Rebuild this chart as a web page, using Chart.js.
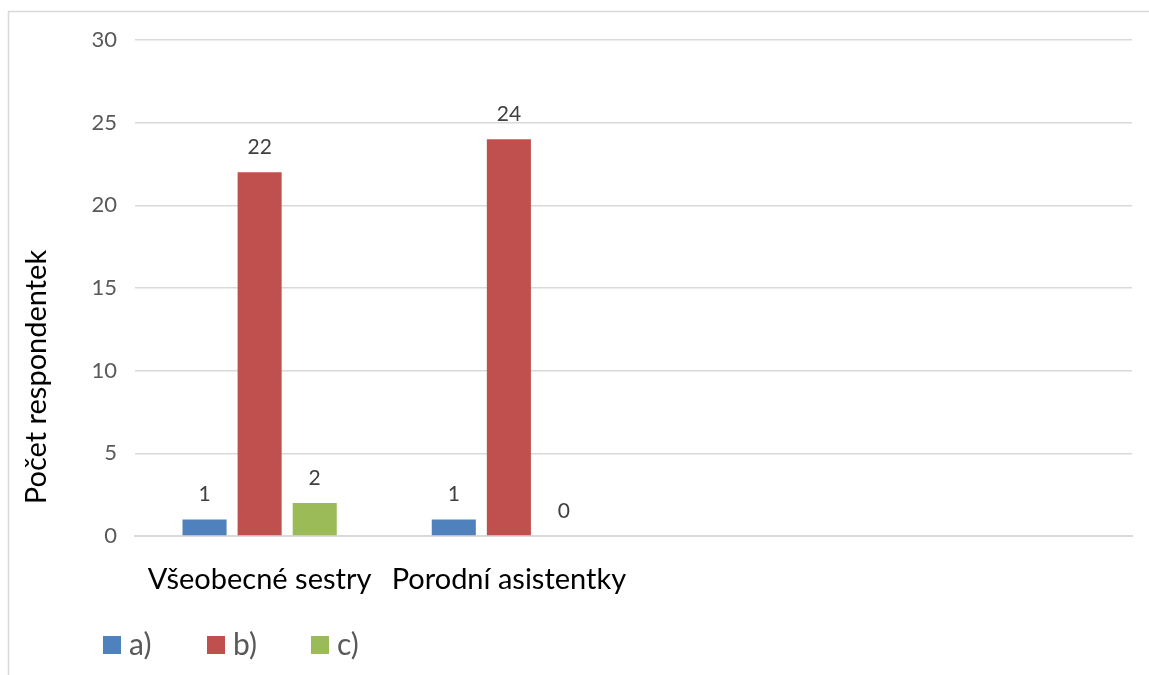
<!DOCTYPE html>
<html>
<head>
<meta charset="utf-8">
<script src="https://cdn.jsdelivr.net/npm/chart.js@4.4.1/dist/chart.umd.min.js"></script>
<style>
  html, body { margin: 0; padding: 0; background: #ffffff; }
  #wrap { width: 1149px; height: 675px; position: relative; }
</style>
</head>
<body>
<div id="wrap"><canvas id="chart" width="1149" height="675"></canvas></div>
<script>
// Categories (the last two slots are empty in the chart)
const categories = ['Všeobecné sestry', 'Porodní asistentky', '', ''];
// Answer counts per group
const seriesA = [1, 1, null, null];
const seriesB = [22, 24, null, null];
const seriesC = [2, 0, null, null];
const seriesNames = ['a)', 'b)', 'c)'];
const seriesColors = ['#4F81BD', '#C0504D', '#9BBB59'];
const yTicks = [0, 5, 10, 15, 20, 25, 30];
const yTitle = 'Počet respondentek';

const FONT = 'Lato, "Open Sans", sans-serif';

// Frame around the whole chart
const framePlugin = {
  id: 'frame',
  beforeDraw(chart) {
    const ctx = chart.ctx;
    ctx.save();
    ctx.fillStyle = '#ffffff';
    ctx.fillRect(0, 0, chart.width, chart.height);
    ctx.strokeStyle = '#d9d9d9';
    ctx.lineWidth = 1.5;
    ctx.strokeRect(8.5, 11.5, chart.width + 20, chart.height + 20);
    ctx.restore();
  }
};

// Value labels above each bar
const valueLabels = {
  id: 'valueLabels',
  afterDatasetsDraw(chart) {
    const ctx = chart.ctx;
    ctx.save();
    ctx.font = '21px ' + FONT;
    ctx.fillStyle = '#404040';
    ctx.textAlign = 'center';
    ctx.textBaseline = 'middle';
    chart.data.datasets.forEach((ds, i) => {
      const meta = chart.getDatasetMeta(i);
      meta.data.forEach((bar, j) => {
        const v = ds.data[j];
        if (v === null || v === undefined) return;
        ctx.fillText(String(v), bar.x, bar.y - 25);
      });
    });
    ctx.restore();
  }
};

// Axis title and legend drawn in the chart's own style
const sideTexts = {
  id: 'sideTexts',
  afterDraw(chart) {
    const ctx = chart.ctx;
    ctx.save();
    ctx.font = '29px ' + FONT;
    ctx.fillStyle = '#000000';
    ctx.textAlign = 'center';
    ctx.textBaseline = 'middle';
    ctx.translate(37, 377);
    ctx.rotate(-Math.PI / 2);
    ctx.fillText(yTitle, 0, 0);
    ctx.restore();

    ctx.save();
    const legendLeft = 103;
    const itemPitch = 104;
    ctx.font = '30px ' + FONT;
    ctx.textBaseline = 'middle';
    ctx.textAlign = 'left';
    chart.data.datasets.forEach((ds, i) => {
      const x = legendLeft + i * itemPitch;
      ctx.fillStyle = ds.backgroundColor;
      ctx.fillRect(x, 636, 18, 18);
      ctx.fillStyle = '#595959';
      ctx.fillText(ds.label, x + 26, 645);
    });
    ctx.restore();
  }
};

new Chart(document.getElementById('chart'), {
  type: 'bar',
  data: {
    labels: categories,
    datasets: [
      { label: seriesNames[0], data: seriesA, backgroundColor: seriesColors[0] },
      { label: seriesNames[1], data: seriesB, backgroundColor: seriesColors[1] },
      { label: seriesNames[2], data: seriesC, backgroundColor: seriesColors[2] }
    ]
  },
  options: {
    responsive: false,
    animation: false,
    devicePixelRatio: 1,
    layout: { padding: { left: 0, right: 17, top: 40, bottom: 0 } },
    datasets: { bar: { barPercentage: 0.8, categoryPercentage: 0.663 } },
    plugins: {
      legend: { display: false },
      tooltip: { enabled: false },
      title: { display: false }
    },
    scales: {
      x: {
        grid: { display: false, drawTicks: false },
        border: { display: true, color: '#d9d9d9', width: 2 },
        ticks: {
          font: { family: FONT, size: 29 },
          color: '#000000',
          padding: 26,
          maxRotation: 0,
          autoSkip: false
        },
        afterFit(scale) { scale.height = 139; }
      },
      y: {
        min: 0,
        max: 30,
        afterBuildTicks(scale) { scale.ticks = yTicks.map(v => ({ value: v })); },
        grid: { color: '#d9d9d9', lineWidth: 1.5, drawTicks: false },
        border: { display: false },
        ticks: {
          font: { family: FONT, size: 22 },
          color: '#595959',
          padding: 18
        },
        afterFit(scale) { scale.width = 135; }
      }
    }
  },
  plugins: [framePlugin, valueLabels, sideTexts]
});
</script>
</body>
</html>
